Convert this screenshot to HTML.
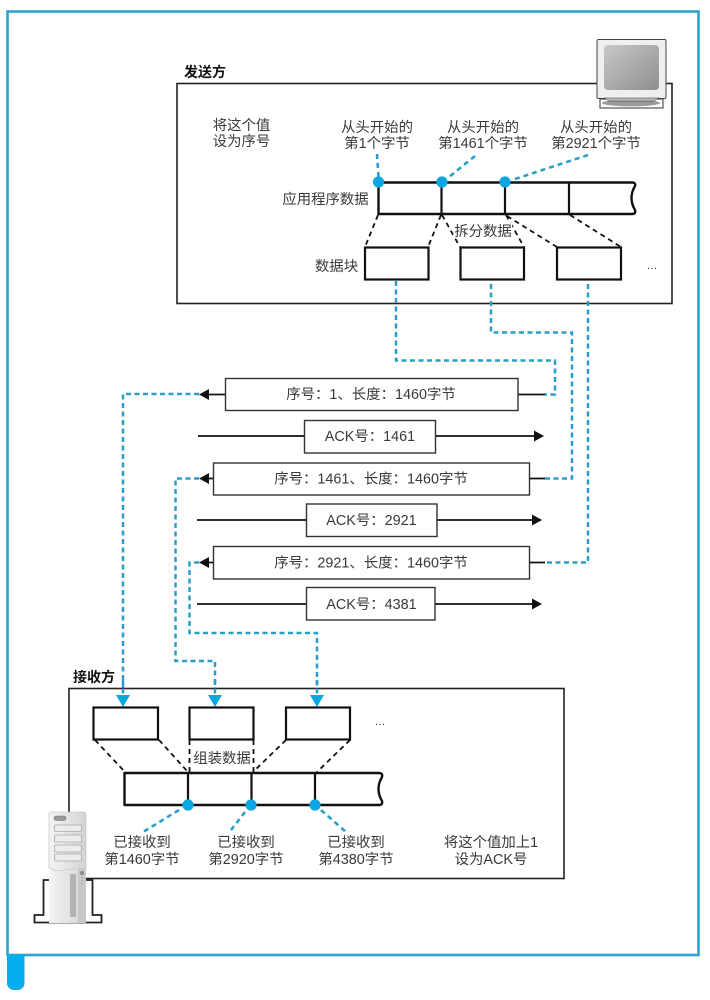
<!DOCTYPE html>
<html lang="zh">
<head>
<meta charset="utf-8">
<style>
html,body{margin:0;padding:0;background:#fff}
svg{display:block}
text{font-family:"Liberation Sans","Noto Sans CJK SC",sans-serif;font-size:14.4px;fill:#3a3a3a;text-anchor:middle}
.l{text-anchor:start}
.b{font-weight:bold;fill:#111;font-size:14px}
.thin{fill:#fff;stroke:#333;stroke-width:1.4}
.blk{fill:#fff;stroke:#111;stroke-width:2.2}
.bar{fill:#fff;stroke:#111;stroke-width:2.4;stroke-linejoin:round}
.div{stroke:#111;stroke-width:2.2;fill:none}
.d{stroke:#111;stroke-width:1.8;stroke-dasharray:5 4;fill:none}
.bd{stroke:#2a9fc9;stroke-width:2.5;stroke-dasharray:5 3.5;fill:none}
.ld{stroke:#2a9fc9;stroke-width:2.6;stroke-dasharray:5 4;fill:none}
.s{stroke:#111;stroke-width:1.8;fill:none}
.dot{fill:#0ca6e0}
.tri{fill:#0ca6e0}
</style>
</head>
<body>
<svg xmlns="http://www.w3.org/2000/svg" width="710" height="1000" viewBox="0 0 710 1000">
<defs>
<linearGradient id="scr" x1="0" y1="0" x2="1" y2="1"><stop offset="0" stop-color="#c8c8c8"/><stop offset="1" stop-color="#8e8e8e"/></linearGradient>
<linearGradient id="twr" x1="0" y1="0" x2="1" y2="0"><stop offset="0" stop-color="#f4f4f4"/><stop offset="1" stop-color="#d4d4d4"/></linearGradient>
</defs>

<rect x="7.5" y="11.5" width="691" height="943.5" fill="#fff" stroke="#2ba5cf" stroke-width="2.6"/>
<path d="M7 955H24.5V983a7 7 0 0 1-7 7H14a7 7 0 0 1-7-7Z" fill="#05aeef"/>

<!-- sender -->
<rect x="177" y="83.5" width="495" height="220" fill="#fff" stroke="#222" stroke-width="1.6"/>
<text class="l b" x="184" y="77">发送方</text>

<!-- monitor -->
<rect x="597" y="39.5" width="69" height="59" rx="1.5" fill="#efefef" stroke="#444" stroke-width="1"/>
<rect x="604" y="45" width="55" height="45" rx="4" fill="url(#scr)"/>
<rect x="600" y="99" width="63" height="9" fill="#fff" stroke="#333" stroke-width="1"/>
<ellipse cx="631" cy="103" rx="29" ry="3.4" fill="#9a9a9a"/>
<path d="M604 98H659L654 101H609Z" fill="#bdbdbd" stroke="#333" stroke-width=".5"/>

<text x="241.5" y="130">将这个值</text>
<text x="241.5" y="146">设为序号</text>
<text x="377" y="132">从头开始的</text>
<text x="377" y="148">第1个字节</text>
<text x="483" y="132">从头开始的</text>
<text x="483" y="148">第1461个字节</text>
<text x="596" y="132">从头开始的</text>
<text x="596" y="148">第2921个字节</text>

<path class="ld" d="M377 154L378.5 177"/>
<path class="ld" d="M475 156L449 177"/>
<path class="ld" d="M588 155L512 180"/>

<path class="bar" d="M378.5 182.5H632Q636 182.5 635 186Q628 198 635 210Q636 214 632 214H378.5Z"/>
<path class="div" d="M441.5 182V214M505 182V214M569 182V214"/>
<circle class="dot" cx="378.5" cy="182" r="5.6"/>
<circle class="dot" cx="442" cy="182" r="5.6"/>
<circle class="dot" cx="505" cy="182" r="5.6"/>
<text x="325.5" y="204">应用程序数据</text>

<path class="d" d="M378 215L365 247M441 215L428 247M442 215L460 247M506 215L524 247M507 216L557 247M570 215L621 247"/>
<text x="483" y="236" style="paint-order:stroke;stroke:#fff;stroke-width:3px">拆分数据</text>

<rect class="blk" x="365" y="247.5" width="63.5" height="32"/>
<rect class="blk" x="460.5" y="247.5" width="63.5" height="32"/>
<rect class="blk" x="557" y="247.5" width="64" height="32"/>
<text x="336.5" y="271">数据块</text>
<text x="652" y="269" style="font-size:11px">…</text>

<!-- blue routes -->
<path class="bd" d="M396 281V360.5H555V394.5H545"/>
<path class="bd" d="M491 284V332.5H572V478.500H545"/>
<path class="bd" d="M588 284V562.5H545"/>
<path class="bd" d="M199 394H123V697"/>
<path class="bd" d="M199 478.5H175.5V661H215V697"/>
<path class="bd" d="M199 562.5H189.5V633H317V697"/>

<!-- packets -->
<path class="s" d="M518 394.5H545M207 394.5H225M529 478.5H545M207 478.5H213M529 562.5H545M207 562.5H213"/>
<path d="M199 394.5L209 389V400Z M199 478.5L209 473V484Z M199 562.5L209 557V568Z" fill="#111"/>
<rect class="thin" x="225.5" y="378.5" width="292.5" height="32"/>
<text x="371" y="399">序号：1、长度：1460字节</text>
<rect class="thin" x="213.5" y="463" width="316" height="32"/>
<text x="371" y="483.5">序号：1461、长度：1460字节</text>
<rect class="thin" x="213.5" y="546.5" width="316" height="32.5"/>
<text x="371" y="567.5">序号：2921、长度：1460字节</text>

<!-- acks -->
<path class="s" d="M198 436H536M197 520H534M197 604H534"/>
<path d="M544 436L534 430.5V441.5Z M542 520L532 514.5V525.5Z M542 604L532 598.5V609.5Z" fill="#111"/>
<rect class="thin" x="304.5" y="420.5" width="131" height="32.5"/>
<text x="370" y="441">ACK号：1461</text>
<rect class="thin" x="306.5" y="504" width="130.5" height="32.5"/>
<text x="371.5" y="525">ACK号：2921</text>
<rect class="thin" x="306.5" y="587.5" width="128.5" height="32.5"/>
<text x="371.5" y="609">ACK号：4381</text>

<!-- receiver -->
<rect x="69" y="688.5" width="495" height="190" fill="#fff" stroke="#222" stroke-width="1.6"/>
<text class="l b" x="73" y="682">接收方</text>
<path class="bd" d="M123 680V696M215 680V696M317 680V696"/>
<path class="tri" d="M116 695H130L123 707Z M208 695H222L215 707Z M310 695H324L317 707Z"/>

<rect class="blk" x="93.5" y="707.5" width="64.5" height="32"/>
<rect class="blk" x="189.5" y="707.5" width="64" height="32"/>
<rect class="blk" x="286" y="707.5" width="64" height="32"/>
<text x="380" y="725" style="font-size:11px">…</text>

<path class="d" d="M95 740L125 772M159 740L188 772M189.5 740V772M253.5 740V772M286 740L253 772M350 740L317 772"/>
<text x="222" y="763" style="paint-order:stroke;stroke:#fff;stroke-width:3px">组装数据</text>

<path class="bar" d="M124.5 773H379Q383 773 382 777Q375 789 382 801Q383 805 379 805H124.5Z"/>
<path class="div" d="M188 773V805M251.5 773V805M315 773V805"/>
<circle class="dot" cx="188" cy="805" r="5.6"/>
<circle class="dot" cx="251" cy="805" r="5.6"/>
<circle class="dot" cx="315" cy="805" r="5.6"/>
<path class="ld" d="M179 810L143 832"/>
<path class="ld" d="M245 812L231 830"/>
<path class="ld" d="M321 810L346 832"/>

<text x="142" y="847">已接收到</text>
<text x="142" y="864">第1460字节</text>
<text x="246" y="847">已接收到</text>
<text x="246" y="864">第2920字节</text>
<text x="356" y="847">已接收到</text>
<text x="356" y="864">第4380字节</text>
<text x="491" y="847">将这个值加上1</text>
<text x="491" y="864">设为ACK号</text>

<!-- server -->
<path d="M43.5 880V915H34.5V922.5H101.5V915H92.5V880Z" fill="#fff" stroke="#222" stroke-width="1.8"/>
<path d="M49 869H86V923H49Z" fill="url(#twr)"/>
<path d="M49 814Q49 812 51 812H84Q86 812 86 814V869L78 868L58 871L49 868Z" fill="url(#twr)" stroke="#bbb" stroke-width=".6"/>
<path d="M78 868H86V923H78Z" fill="#c8c8c8"/>
<rect x="54" y="816" width="12" height="4.5" rx="2" fill="#9a9a9a" stroke="#777" stroke-width=".5"/>
<g fill="#ececec" stroke="#a8a8a8" stroke-width=".8">
<rect x="54.5" y="825" width="27" height="6.5" rx="1"/>
<rect x="54.5" y="835" width="27" height="7" rx="1"/>
<rect x="54.5" y="845" width="27" height="7" rx="1"/>
<rect x="54.5" y="854" width="27" height="7" rx="1"/>
</g>
<path d="M71 874V917M73 874V917M75 874V917" stroke="#888" stroke-width="1" fill="none"/>
<circle cx="82" cy="873" r="2" fill="#888"/>
<path d="M82 877V886" stroke="#999" stroke-width="1.2" stroke-dasharray="1 2" fill="none"/>
</svg>
</body>
</html>
